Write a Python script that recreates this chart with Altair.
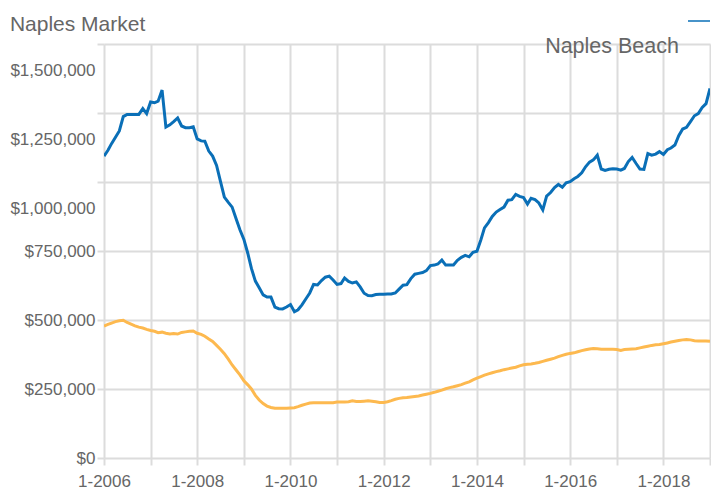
import altair as alt
import pandas as pd

FONT = "Liberation Sans"
TEXT = "#666666"
GRID = "#dcdcdc"

months = pd.date_range("2006-01-01", periods=159, freq="MS").strftime("%Y-%m-%d").tolist()

beach_k = [
    1094, 1115, 1139, 1162, 1185, 1237, 1245, 1245, 1245, 1245,
    1266, 1248, 1290, 1287, 1293, 1333, 1199, 1207, 1219, 1232,
    1203, 1197, 1197, 1200, 1156, 1149, 1148, 1112, 1094, 1060,
    1003, 945, 926, 909, 867, 827, 792, 741, 687, 641,
    617, 591, 583, 583, 547, 541, 540, 547, 556, 530,
    537, 555, 576, 598, 629, 627, 643, 655, 659, 645,
    629, 632, 652, 640, 634, 638, 620, 597, 589, 588,
    592, 593, 593, 594, 594, 598, 612, 626, 628, 650,
    666, 669, 672, 679, 697, 699, 703, 717, 699, 699,
    699, 716, 727, 734, 729, 745, 749, 791, 834, 853,
    875, 891, 900, 909, 934, 936, 955, 948, 944, 920,
    941, 936, 924, 899, 949, 962, 980, 991, 981, 997,
    1001, 1012, 1020, 1033, 1055, 1072, 1080, 1097, 1047, 1042,
    1046, 1048, 1047, 1043, 1049, 1074, 1089, 1067, 1047, 1046,
    1103, 1097, 1101, 1110, 1100, 1117, 1123, 1134, 1168, 1192,
    1198, 1219, 1240, 1248, 1270, 1284, 1339, 1351, 1351,
]

overall_k = [
    478, 484, 489, 494, 497, 499, 491, 485, 479, 474,
    471, 466, 462, 459, 454, 456, 452, 449, 451, 449,
    455, 457, 459, 460, 452, 448, 441, 431, 422, 408,
    394, 378, 358, 337, 319, 301, 280, 265, 250, 227,
    210, 197, 188, 183, 180, 180, 180, 180, 181, 182,
    186, 191, 195, 199, 200, 200, 200, 200, 200, 200,
    203, 203, 203, 204, 207, 205, 205, 206, 207, 206,
    204, 201, 201, 204, 208, 213, 216, 218, 219, 221,
    223, 225, 228, 231, 234, 238, 242, 246, 251, 255,
    258, 262, 266, 271, 276, 283, 289, 295, 300, 305,
    309, 313, 316, 320, 323, 326, 329, 334, 338, 340,
    341, 343, 346, 350, 354, 358, 362, 367, 372, 376,
    379, 381, 385, 389, 392, 395, 397, 396, 394, 394,
    394, 394, 393, 390, 393, 394, 395, 396, 399, 402,
    405, 408, 410, 411, 414, 417, 420, 423, 426, 428,
    429, 428, 425, 424, 424, 424, 423, 420, 418,
]

series_names = ["Naples Beach", "Overall"]
series_colors = ["#0a6fb7", "#fdb94f"]
y_ticks = [0, 250000, 500000, 750000, 1000000, 1250000, 1500000]
x_tick_years = list(range(2006, 2020))
x_domain = ["2006-01-01", "2019-01-01"]

rows = []
for d, b, o in zip(months, beach_k, overall_k):
    if d <= x_domain[1]:
        rows.append({"date": d, "series": "Naples Beach", "price": b * 1000})
        rows.append({"date": d, "series": "Overall", "price": o * 1000})
df = pd.DataFrame(rows)

color_scale = alt.Scale(domain=series_names, range=series_colors)

x_enc = alt.X(
    "date:T",
    scale=alt.Scale(type="utc", domain=x_domain, nice=False),
    axis=alt.Axis(
        values=[alt.DateTime(year=y, month=1, date=1, utc=True) for y in x_tick_years],
        labelExpr="utcyear(datum.value) % 2 === 0 ? (utcmonth(datum.value) + 1) + '-' + utcyear(datum.value) : ''",
        labelOverlap=False,
        labelFlush=False,
        tickSize=7,
        tickColor=GRID,
        tickWidth=2,
        labelPadding=8,
        domain=False,
        gridColor=GRID,
        gridWidth=2,
        labelFont=FONT,
        labelFontSize=17,
        labelColor=TEXT,
        title=None,
    ),
)

y_enc = alt.Y(
    "price:Q",
    scale=alt.Scale(domain=[0, 1500000], nice=False),
    axis=alt.Axis(
        values=y_ticks,
        format="$,.0f",
        tickSize=7,
        tickColor=GRID,
        tickWidth=2,
        labelPadding=2,
        labelOffset={"condition": {"test": "datum.value >= 1000000", "value": 26}, "value": 0},
        domain=False,
        gridColor=GRID,
        gridWidth=2,
        labelFont=FONT,
        labelFontSize=17,
        labelColor=TEXT,
        title=None,
    ),
)

lines = alt.Chart(df).mark_line(strokeWidth=3, clip=True).encode(
    x=x_enc,
    y=y_enc,
    color=alt.Color("series:N", scale=color_scale, legend=None),
    detail="series:N",
)

legend_df = pd.DataFrame({"series": ["Naples Beach"], "label": ["Naples Beach"]})

legend_text = alt.Chart(legend_df).mark_text(
    align="right", baseline="middle", font=FONT, fontSize=21.5, color=TEXT
).encode(x=alt.value(575), y=alt.value(3), text="label:N")

legend_rule = alt.Chart(legend_df).mark_rule(strokeWidth=1.5).encode(
    x=alt.value(584),
    x2=alt.value(606),
    y=alt.value(-23),
    color=alt.Color("series:N", scale=color_scale, legend=None),
)

chart = (
    alt.layer(lines, legend_rule, legend_text)
    .properties(
        width=606,
        height=414,
        padding={"left": 1, "top": 5, "right": 0, "bottom": 0},
        title=alt.TitleParams(
            "Naples Market",
            anchor="start",
            frame="bounds",
            font=FONT,
            fontSize=21,
            fontWeight="normal",
            color=TEXT,
            offset=-14.5,
        ),
    )
    .configure_view(stroke=None)
)

chart.save("out.html", embed_options={"renderer": "svg", "actions": False})
